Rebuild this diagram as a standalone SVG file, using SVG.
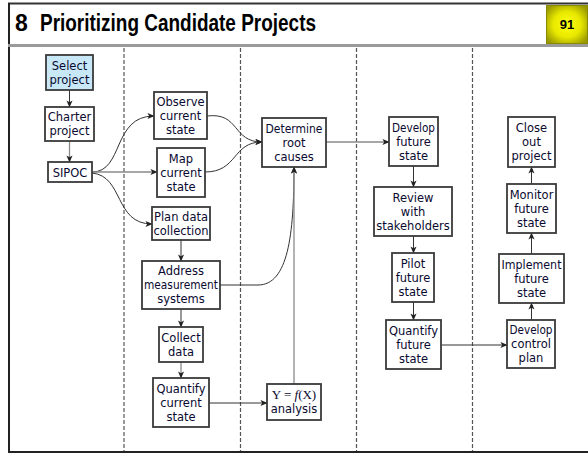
<svg xmlns="http://www.w3.org/2000/svg" width="588" height="457" viewBox="0 0 588 457">
<defs>
<marker id="arr" viewBox="0 0 8 8" refX="7.5" refY="4" markerWidth="7" markerHeight="7" markerUnits="userSpaceOnUse" orient="auto">
<path d="M0,0.5 L8,4 L0,7.5 L2,4 Z" fill="#222"/>
</marker>
<radialGradient id="badgeG" cx="0.5" cy="0.5" r="0.6">
<stop offset="0" stop-color="#ffff10"/>
<stop offset="0.55" stop-color="#e8e800"/>
<stop offset="1" stop-color="#9a9a00"/>
</radialGradient>
</defs>
<style>
.box{fill:#fff;stroke:#3a3a3a;stroke-width:1.8}
.sel{fill:#c8e8f8}
.t{font-family:"DejaVu Sans",sans-serif;font-size:11.5px;fill:#0a0a30;text-anchor:middle}
.c{fill:none;stroke:#333;stroke-width:1;marker-end:url(#arr)}
.g{stroke:#8a8a8a;stroke-width:1.3}
.dash{stroke:#555;stroke-width:1.2;stroke-dasharray:4 2}
</style>
<rect x="0" y="0" width="588" height="457" fill="#fff"/>
<!-- frame -->
<line x1="8" y1="3.5" x2="588" y2="3.5" stroke="#333" stroke-width="2"/>
<line x1="9" y1="3" x2="9" y2="453" stroke="#222" stroke-width="2"/>
<line x1="8" y1="45.5" x2="588" y2="45.5" stroke="#9a9a9a" stroke-width="3"/>
<line x1="8" y1="452" x2="588" y2="452" stroke="#222" stroke-width="2"/>
<text x="15" y="31" font-family="Liberation Sans,Arial,sans-serif" font-weight="bold" font-size="23" fill="#000">8<tspan x="40" textLength="276" lengthAdjust="spacingAndGlyphs">Prioritizing Candidate Projects</tspan></text>
<rect x="546" y="5" width="42" height="39" fill="url(#badgeG)"/>
<rect x="546.5" y="5.5" width="41" height="38" fill="none" stroke="#8a8a00" stroke-width="1"/>
<text x="567" y="29" font-family="Liberation Sans,Arial,sans-serif" font-weight="bold" font-size="13" fill="#000" text-anchor="middle">91</text>
<!-- lanes -->
<g id="lanes">
<line class="dash" x1="124" y1="48" x2="124" y2="451"/>
<line class="dash" x1="240.5" y1="48" x2="240.5" y2="451"/>
<line class="dash" x1="356.5" y1="48" x2="356.5" y2="451"/>
<line class="dash" x1="472.5" y1="48" x2="472.5" y2="451"/>
</g>
<!-- connectors -->
<g id="connectors">
<line class="c" x1="69.5" y1="90" x2="69.5" y2="107"/>
<line class="c g" x1="69.5" y1="141" x2="69.5" y2="162"/>
<path class="c" d="M92,172 C124,172 112,116 154,116"/>
<line class="c g" x1="92" y1="172" x2="157" y2="172"/>
<path class="c" d="M92,173 C124,176 114,224 152,224"/>
<path class="c" d="M207,116 C240,112 232,142 262,142"/>
<path class="c" d="M205,172 C238,172 232,142 262,142"/>
<line class="c" x1="181" y1="240" x2="181" y2="261"/>
<path class="c" d="M220,285 L258,285 C288,285 294,235 294,167"/>
<line class="c" x1="181" y1="309" x2="181" y2="327"/>
<line class="c g" x1="181" y1="362" x2="181" y2="378"/>
<line class="c" x1="209" y1="403" x2="267" y2="403"/>
<line class="c g" x1="294" y1="384" x2="294" y2="167"/>
<line class="c g" x1="326" y1="142" x2="389" y2="142"/>
<line class="c" x1="413.5" y1="166" x2="413.5" y2="187"/>
<line class="c" x1="413.5" y1="236" x2="413.5" y2="253"/>
<line class="c" x1="413.5" y1="302" x2="413.5" y2="320"/>
<line class="c" x1="441" y1="345" x2="507" y2="345"/>
<line class="c" x1="531.5" y1="320" x2="531.5" y2="303"/>
<line class="c" x1="531.5" y1="254" x2="531.5" y2="233"/>
<line class="c" x1="531.5" y1="184" x2="531.5" y2="167"/>
</g>
<!-- nodes -->
<g id="select"><rect class="box sel" x="46" y="55" width="47" height="35"/><text class="t" x="69.5" y="70">Select</text><text class="t" x="69.5" y="84">project</text></g>
<g id="charter"><rect class="box" x="45" y="107" width="49" height="34"/><text class="t" x="69.5" y="121">Charter</text><text class="t" x="69.5" y="135">project</text></g>
<g id="sipoc"><rect class="box" x="48" y="162" width="44" height="20"/><text class="t" x="70" y="176.5">SIPOC</text></g>
<g id="observe"><rect class="box" x="154" y="92" width="53" height="47"/><text class="t" x="180.5" y="105.5">Observe</text><text class="t" x="180.5" y="119.5">current</text><text class="t" x="180.5" y="133.5">state</text></g>
<g id="map"><rect class="box" x="157" y="148" width="48" height="49"/><text class="t" x="181" y="162.5">Map</text><text class="t" x="181" y="176.5">current</text><text class="t" x="181" y="190.5">state</text></g>
<g id="plan"><rect class="box" x="152" y="207" width="58" height="33"/><text class="t" x="181" y="220.5">Plan data</text><text class="t" x="181" y="234.5">collection</text></g>
<g id="address"><rect class="box" x="142" y="261" width="78" height="48"/><text class="t" x="181" y="275">Address</text><text class="t" x="181" y="289" textLength="74" lengthAdjust="spacingAndGlyphs">measurement</text><text class="t" x="181" y="303">systems</text></g>
<g id="collect"><rect class="box" x="159" y="327" width="44" height="35"/><text class="t" x="181" y="341.5">Collect</text><text class="t" x="181" y="355.5">data</text></g>
<g id="quantcur"><rect class="box" x="153" y="378" width="56" height="49"/><text class="t" x="181" y="392.5">Quantify</text><text class="t" x="181" y="406.5">current</text><text class="t" x="181" y="420.5">state</text></g>
<g id="determine"><rect class="box" x="262" y="118" width="64" height="49"/><text class="t" x="294" y="132.5" textLength="57" lengthAdjust="spacingAndGlyphs">Determine</text><text class="t" x="294" y="146.5">root</text><text class="t" x="294" y="160.5">causes</text></g>
<g id="yfx"><rect class="box" x="267" y="384" width="54" height="36"/><text x="294" y="399" font-family="Liberation Serif,serif" font-size="13" fill="#0a0a30" text-anchor="middle">Y = <tspan font-style="italic">f</tspan>(X)</text><text class="t" x="294" y="413">analysis</text></g>
<g id="devfut"><rect class="box" x="389" y="117" width="49" height="49"/><text class="t" x="413.5" y="131.5" textLength="43" lengthAdjust="spacingAndGlyphs">Develop</text><text class="t" x="413.5" y="145.5">future</text><text class="t" x="413.5" y="159.5">state</text></g>
<g id="review"><rect class="box" x="374" y="187" width="78" height="49"/><text class="t" x="413" y="201.5">Review</text><text class="t" x="413" y="215.5">with</text><text class="t" x="413" y="229.5">stakeholders</text></g>
<g id="pilot"><rect class="box" x="392" y="253" width="42" height="49"/><text class="t" x="413" y="267.5">Pilot</text><text class="t" x="413" y="281.5">future</text><text class="t" x="413" y="295.5">state</text></g>
<g id="quantfut"><rect class="box" x="386" y="320" width="55" height="49"/><text class="t" x="413.5" y="334.5">Quantify</text><text class="t" x="413.5" y="348.5">future</text><text class="t" x="413.5" y="362.5">state</text></g>
<g id="close"><rect class="box" x="508" y="117" width="47" height="50"/><text class="t" x="531.5" y="132">Close</text><text class="t" x="531.5" y="146">out</text><text class="t" x="531.5" y="160">project</text></g>
<g id="monitor"><rect class="box" x="507" y="184" width="49" height="49"/><text class="t" x="531.5" y="198.5">Monitor</text><text class="t" x="531.5" y="212.5">future</text><text class="t" x="531.5" y="226.5">state</text></g>
<g id="implement"><rect class="box" x="499" y="254" width="65" height="49"/><text class="t" x="531.5" y="268.5" textLength="60" lengthAdjust="spacingAndGlyphs">Implement</text><text class="t" x="531.5" y="282.5">future</text><text class="t" x="531.5" y="296.5">state</text></g>
<g id="devctrl"><rect class="box" x="507" y="320" width="48" height="48"/><text class="t" x="531" y="334" textLength="43" lengthAdjust="spacingAndGlyphs">Develop</text><text class="t" x="531" y="348">control</text><text class="t" x="531" y="362">plan</text></g>
</svg>
